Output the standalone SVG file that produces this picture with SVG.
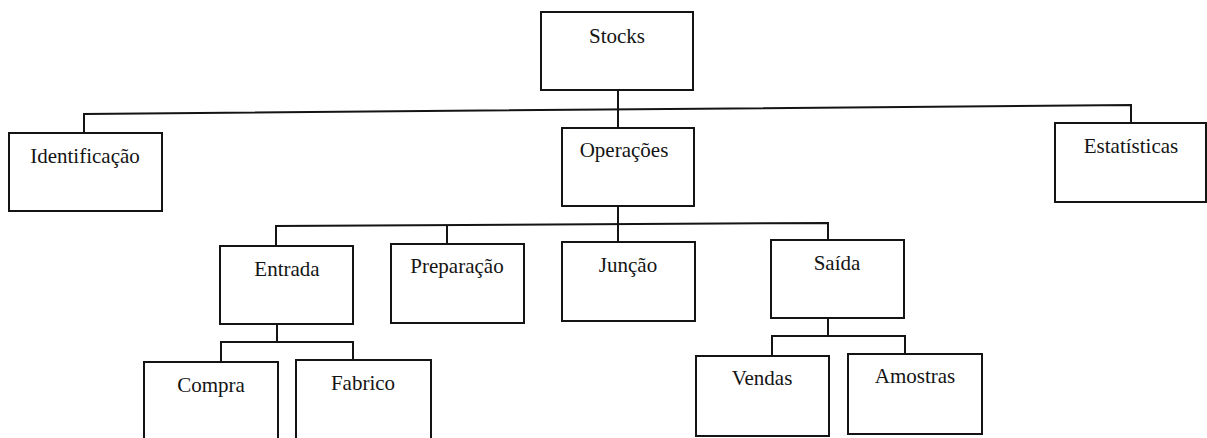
<svg xmlns="http://www.w3.org/2000/svg" width="1207" height="438" viewBox="0 0 1207 438">
  <style>
    .box { fill: #ffffff; stroke: #141414; stroke-width: 2; }
    .wire { fill: none; stroke: #141414; stroke-width: 2; stroke-linejoin: miter; }
    .label { font-family: "Liberation Serif", "Times New Roman", serif; font-size: 21px; fill: #141414; text-anchor: middle; }
  </style>
  <rect width="1207" height="438" fill="#ffffff"/>

  <!-- connectors -->
  <g id="connectors">
    <!-- Stocks to its three children -->
    <polyline class="wire" points="84,133 84,114 1131,105 1131,123"/>
    <line class="wire" x1="618" y1="90" x2="618" y2="128"/>
    <!-- Operações to its four children -->
    <line class="wire" x1="618" y1="206" x2="618" y2="242"/>
    <polyline class="wire" points="276,246 276,226 828,223 828,240"/>
    <line class="wire" x1="447" y1="225" x2="447" y2="244"/>
    <!-- Entrada to Compra / Fabrico -->
    <line class="wire" x1="277" y1="324" x2="277" y2="342"/>
    <polyline class="wire" points="221,362 221,342 353,342 353,360"/>
    <!-- Saída to Vendas / Amostras -->
    <line class="wire" x1="828" y1="318" x2="828" y2="336"/>
    <polyline class="wire" points="772,356 772,336 905,336 905,354"/>
  </g>

  <g id="stocks">
    <rect class="box" x="541" y="12" width="152" height="78"/>
    <text class="label" x="617" y="43">Stocks</text>
  </g>
  <g id="identificacao">
    <rect class="box" x="9" y="133" width="153" height="78"/>
    <text class="label" x="85" y="163">Identificação</text>
  </g>
  <g id="operacoes">
    <rect class="box" x="562" y="128" width="132" height="78"/>
    <text class="label" x="624" y="157">Operações</text>
  </g>
  <g id="estatisticas">
    <rect class="box" x="1055" y="123" width="151" height="79"/>
    <text class="label" x="1131" y="153">Estatísticas</text>
  </g>
  <g id="entrada">
    <rect class="box" x="220" y="246" width="133" height="78"/>
    <text class="label" x="287" y="276">Entrada</text>
  </g>
  <g id="preparacao">
    <rect class="box" x="391" y="244" width="133" height="79"/>
    <text class="label" x="457" y="273">Preparação</text>
  </g>
  <g id="juncao">
    <rect class="box" x="562" y="242" width="133" height="79"/>
    <text class="label" x="628" y="272">Junção</text>
  </g>
  <g id="saida">
    <rect class="box" x="771" y="240" width="133" height="78"/>
    <text class="label" x="837" y="270">Saída</text>
  </g>
  <g id="compra">
    <rect class="box" x="144" y="362" width="134" height="90"/>
    <text class="label" x="211" y="392">Compra</text>
  </g>
  <g id="fabrico">
    <rect class="box" x="296" y="360" width="135" height="92"/>
    <text class="label" x="363" y="390">Fabrico</text>
  </g>
  <g id="vendas">
    <rect class="box" x="696" y="356" width="133" height="80"/>
    <text class="label" x="762" y="385">Vendas</text>
  </g>
  <g id="amostras">
    <rect class="box" x="848" y="354" width="134" height="80"/>
    <text class="label" x="915" y="383">Amostras</text>
  </g>
</svg>
